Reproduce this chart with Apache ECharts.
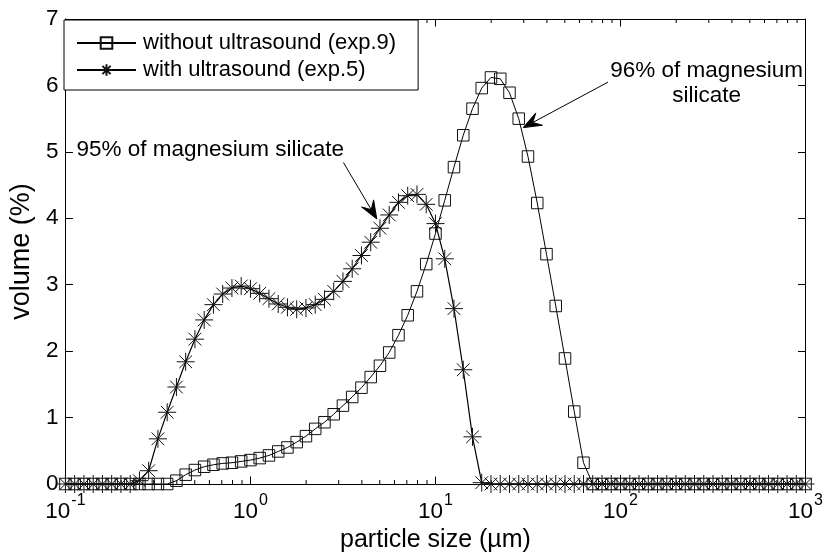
<!DOCTYPE html>
<html>
<head>
<meta charset="utf-8">
<title>Particle size distribution</title>
<script src="https://cdn.jsdelivr.net/npm/echarts@6/dist/echarts.min.js"></script>
<style>
  html, body { margin: 0; padding: 0; background: #fff; }
  #chart { width: 826px; height: 558px; }
</style>
</head>
<body>
<div id="chart"></div>
<script>
// Particle size classes (µm), 20 classes per decade
const particleSize = [
  0.1, 0.1122, 0.1259, 0.1413, 0.1585, 0.1778, 0.1995, 0.2239, 0.2512, 0.2818,
  0.3162, 0.3548, 0.3981, 0.4467, 0.5012, 0.5623, 0.631, 0.7079, 0.7943, 0.8913,
  1, 1.122, 1.259, 1.413, 1.585, 1.778, 1.995, 2.239, 2.512, 2.818,
  3.162, 3.548, 3.981, 4.467, 5.012, 5.623, 6.31, 7.079, 7.943, 8.913,
  10, 11.22, 12.59, 14.13, 15.85, 17.78, 19.95, 22.39, 25.12, 28.18,
  31.62, 35.48, 39.81, 44.67, 50.12, 56.23, 63.1, 70.79, 79.43, 89.13,
  100, 112.2, 125.9, 141.3, 158.5, 177.8, 199.5, 223.9, 251.2, 281.8,
  316.2, 354.8, 398.1, 446.7, 501.2, 562.3, 631, 707.9, 794.3, 891.3,
  1000
];

// Volume fraction (%) without ultrasound (exp.9)
const volumeWithout = [
  0, 0, 0, 0, 0, 0, 0, 0, 0, 0,
  0, 0, 0.05, 0.14, 0.21, 0.26, 0.29, 0.31, 0.32, 0.34,
  0.36, 0.39, 0.43, 0.49, 0.55, 0.63, 0.72, 0.83, 0.93, 1.05,
  1.18, 1.31, 1.45, 1.61, 1.78, 1.98, 2.24, 2.54, 2.9, 3.31,
  3.77, 4.27, 4.77, 5.25, 5.65, 5.96, 6.12, 6.1, 5.89, 5.5,
  4.93, 4.23, 3.46, 2.68, 1.89, 1.09, 0.32, 0, 0, 0,
  0, 0, 0, 0, 0, 0, 0, 0, 0, 0,
  0, 0, 0, 0, 0, 0, 0, 0, 0, 0,
  0
];

// Volume fraction (%) with ultrasound (exp.5)
const volumeWith = [
  0, 0, 0, 0, 0, 0, 0, 0, 0.05, 0.2,
  0.68, 1.08, 1.46, 1.84, 2.18, 2.47, 2.7, 2.86, 2.95, 2.98,
  2.94, 2.87, 2.79, 2.71, 2.66, 2.63, 2.65, 2.7, 2.78, 2.9,
  3.05, 3.24, 3.44, 3.64, 3.85, 4.05, 4.24, 4.34, 4.36, 4.21,
  3.92, 3.39, 2.64, 1.72, 0.71, 0.02, 0, 0, 0, 0,
  0, 0, 0, 0, 0, 0, 0, 0, 0, 0,
  0, 0, 0, 0, 0, 0, 0, 0, 0, 0,
  0, 0, 0, 0, 0, 0, 0, 0, 0, 0,
  0
];

const seriesNames = ['without ultrasound (exp.9)', 'with ultrasound (exp.5)'];

// Axis ticks
const xDecades = [0.1, 1, 10, 100, 1000];
const xTickExponents = ['-1', '0', '1', '2', '3'];
const xMinorMultipliers = [2, 3, 4, 5, 6, 7, 8, 9];
const yTickLabels = ['0', '1', '2', '3', '4', '5', '6', '7'];

// Text callouts: label anchor, arrow start and arrow tip in data units
const callouts = [
  { text: '95% of magnesium silicate', at: [0.6065, 5.025], from: [3.18, 4.84], to: [4.815, 3.99] },
  { text: '96% of magnesium\nsilicate', at: [292, 6.03], from: [85.66, 6.05], to: [29.8, 5.365] }
];

const FONT = '"Liberation Sans", Arial, Helvetica, sans-serif';
const INK = '#000';

const minorTicks = [];
xDecades.slice(0, -1).forEach(d => xMinorMultipliers.forEach(m => minorTicks.push([d * m, 0])));

const pairs = vals => particleSize.map((s, i) => [s, vals[i]]);

// Eight-armed asterisk marker
const starSymbol = 'path://M0,-10L0,10M-10,0L10,0M-7.07,-7.07L7.07,7.07M-7.07,7.07L7.07,-7.07';

const chart = echarts.init(document.getElementById('chart'), null, { renderer: 'canvas' });

const xAxisBase = {
  type: 'log',
  logBase: 10,
  min: 0.1,
  max: 1000,
  axisLine: { show: true, onZero: false, lineStyle: { color: INK, width: 1 } },
  axisTick: { show: true, inside: true, length: 7.5, lineStyle: { color: INK, width: 1 } },
  splitLine: { show: false },
  minorTick: { show: false },
  minorSplitLine: { show: false }
};

const yAxisBase = {
  type: 'value',
  min: 0,
  max: 7,
  interval: 1,
  axisLine: { show: true, onZero: false, lineStyle: { color: INK, width: 1 } },
  axisTick: { show: true, inside: true, length: 7.5, lineStyle: { color: INK, width: 1 } },
  splitLine: { show: false }
};

const option = {
  animation: false,
  backgroundColor: '#fff',
  textStyle: { fontFamily: FONT, color: INK },
  grid: { left: 65, top: 19, width: 741, height: 467, containLabel: false },
  legend: {
    orient: 'vertical',
    left: 64,
    top: 20,
    data: seriesNames,
    itemWidth: 59,
    itemHeight: 14.5,
    itemGap: 3,
    padding: [11, 22, 8, 12],
    borderColor: INK,
    borderWidth: 1,
    borderRadius: 0,
    backgroundColor: '#fff',
    selectedMode: false,
    textStyle: { fontSize: 22, fontFamily: FONT, color: INK, lineHeight: 24, padding: [0, 0, 0, 2] }
  },
  xAxis: [
    Object.assign({}, xAxisBase, {
      position: 'bottom',
      name: 'particle size (µm)',
      nameLocation: 'middle',
      nameGap: 44,
      nameTextStyle: { fontSize: 25, fontFamily: FONT, color: INK },
      axisLabel: {
        show: true,
        margin: 9,
        showMinLabel: true,
        showMaxLabel: true,
        formatter: v => {
          const i = xDecades.findIndex(d => Math.abs(Math.log10(d) - Math.log10(v)) < 1e-6);
          return i < 0 ? '' : '{b|10}{s|' + xTickExponents[i] + '}';
        },
        rich: {
          b: { fontSize: 22.5, fontFamily: FONT, color: INK, lineHeight: 30, verticalAlign: 'bottom' },
          s: { fontSize: 16, fontFamily: FONT, color: INK, lineHeight: 17, verticalAlign: 'top', padding: [0, 0, 0, 1] }
        }
      }
    }),
    Object.assign({}, xAxisBase, { position: 'top', axisLabel: { show: false } })
  ],
  yAxis: [
    Object.assign({}, yAxisBase, {
      position: 'left',
      name: 'volume (%)',
      nameLocation: 'middle',
      nameGap: 26,
      nameRotate: 90,
      nameTextStyle: { fontSize: 27, fontFamily: FONT, color: INK },
      axisLabel: {
        show: true,
        margin: 7,
        fontSize: 22.5,
        fontFamily: FONT,
        color: INK,
        formatter: v => yTickLabels[Math.round(v)]
      }
    }),
    Object.assign({}, yAxisBase, { position: 'right', axisLabel: { show: false } })
  ],
  series: [
    {
      name: seriesNames[0],
      type: 'line',
      xAxisIndex: 0,
      yAxisIndex: 0,
      data: pairs(volumeWithout),
      symbol: 'rect',
      symbolSize: 11.5,
      showSymbol: true,
      showAllSymbol: true,
      clip: false,
      smooth: false,
      lineStyle: { color: INK, width: 1 },
      itemStyle: { color: 'rgba(255,255,255,0)', borderColor: '#111', borderWidth: 1 },
      emphasis: { disabled: true },
      z: 4
    },
    {
      name: seriesNames[1],
      type: 'line',
      xAxisIndex: 0,
      yAxisIndex: 0,
      data: pairs(volumeWith),
      symbol: starSymbol,
      symbolSize: 18,
      showSymbol: true,
      showAllSymbol: true,
      clip: false,
      smooth: false,
      lineStyle: { color: INK, width: 1.2 },
      itemStyle: { color: 'rgba(255,255,255,0)', borderColor: '#111', borderWidth: 1 },
      emphasis: { disabled: true },
      z: 5
    },
    {
      // Logarithmic minor ticks on the bottom and top edges of the frame
      type: 'custom',
      xAxisIndex: 0,
      yAxisIndex: 0,
      silent: true,
      clip: false,
      z: 3,
      data: minorTicks,
      encode: { x: 0, y: 1 },
      renderItem: (params, api) => {
        const v = api.value(0);
        const b = api.coord([v, 0]);
        const t = api.coord([v, 7]);
        return {
          type: 'group',
          children: [
            { type: 'line', shape: { x1: b[0], y1: b[1], x2: b[0], y2: b[1] - 4 }, style: { stroke: INK, lineWidth: 1 } },
            { type: 'line', shape: { x1: t[0], y1: t[1], x2: t[0], y2: t[1] + 4 }, style: { stroke: INK, lineWidth: 1 } }
          ]
        };
      }
    }
  ]
};

chart.setOption(option);

// Callout arrows and labels, placed through the chart's own coordinate conversion
function arrowElements(fromPx, tipPx) {
  const dx = tipPx[0] - fromPx[0];
  const dy = tipPx[1] - fromPx[1];
  const len = Math.hypot(dx, dy);
  const ux = dx / len, uy = dy / len;
  const nx = -uy, ny = ux;
  const L = 18, W = 14, notch = 0.6;
  const back = [tipPx[0] - L * ux, tipPx[1] - L * uy];
  const mid = [tipPx[0] - L * notch * ux, tipPx[1] - L * notch * uy];
  return [
    {
      type: 'line',
      silent: true,
      z: 20,
      shape: { x1: fromPx[0], y1: fromPx[1], x2: mid[0], y2: mid[1] },
      style: { stroke: INK, lineWidth: 1 }
    },
    {
      type: 'polygon',
      silent: true,
      z: 20,
      shape: {
        points: [
          tipPx,
          [back[0] + nx * W / 2, back[1] + ny * W / 2],
          mid,
          [back[0] - nx * W / 2, back[1] - ny * W / 2]
        ]
      },
      style: { fill: INK, stroke: INK, lineWidth: 1 }
    }
  ];
}

const toPx = pt => chart.convertToPixel({ seriesIndex: 0 }, pt);
const graphics = [];
callouts.forEach(c => {
  const at = toPx(c.at);
  graphics.push({
    type: 'text',
    silent: true,
    z: 20,
    x: at[0],
    y: at[1],
    style: {
      text: c.text,
      fill: INK,
      font: '22.5px ' + FONT,
      align: 'center',
      verticalAlign: 'middle',
      lineHeight: 24.5
    }
  });
  arrowElements(toPx(c.from), toPx(c.to)).forEach(e => graphics.push(e));
});
chart.setOption({ graphic: { elements: graphics } });
</script>
</body>
</html>
